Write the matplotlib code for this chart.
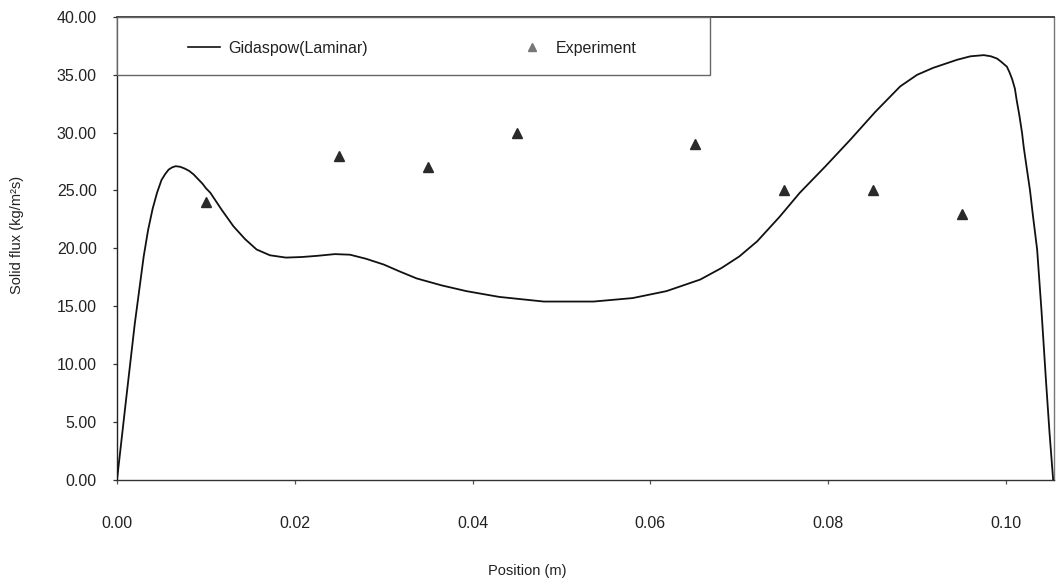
import matplotlib
matplotlib.use("Agg")
import matplotlib.pyplot as plt
from matplotlib.lines import Line2D
from matplotlib.patches import Rectangle

plt.rcParams['font.family'] = ['Liberation Sans', 'DejaVu Sans']

# Simulated solid flux profile (Gidaspow, laminar)
sim_x = [0.0000, 0.0010, 0.0020, 0.0030, 0.0035, 0.0040, 0.0045, 0.0050, 0.0054,
         0.0058, 0.0062, 0.0066, 0.0071, 0.0076, 0.0081, 0.0086, 0.0091, 0.0096,
         0.0100, 0.0105, 0.0118, 0.0131, 0.0144, 0.0157, 0.0172, 0.0190, 0.0208,
         0.0225, 0.0245, 0.0262, 0.0280, 0.0300, 0.0318, 0.0337, 0.0365, 0.0393,
         0.0430, 0.0480, 0.0536, 0.0580, 0.0618, 0.0656, 0.0680, 0.0700, 0.0720,
         0.0745, 0.0768, 0.0797, 0.0825, 0.0853, 0.0881, 0.0900, 0.0918, 0.0945,
         0.0960, 0.0975, 0.0983, 0.0990, 0.0995, 0.1001, 0.1004, 0.1007, 0.1010,
         0.1012, 0.1015, 0.1018, 0.1020, 0.1023, 0.1027, 0.1030, 0.1035, 0.1040,
         0.1045, 0.1049, 0.1053]
sim_y = [0.0, 6.8, 13.5, 19.3, 21.6, 23.4, 24.8, 25.9, 26.4,
         26.8, 27.0, 27.1, 27.05, 26.9, 26.7, 26.4, 26.0, 25.6,
         25.2, 24.8, 23.3, 21.9, 20.8, 19.9, 19.4, 19.2, 19.25,
         19.35, 19.5, 19.45, 19.1, 18.6, 18.0, 17.4, 16.8, 16.3,
         15.8, 15.4, 15.4, 15.7, 16.3, 17.3, 18.3, 19.3, 20.6,
         22.7, 24.8, 27.1, 29.4, 31.8, 34.0, 35.0, 35.6, 36.3,
         36.6, 36.7, 36.6, 36.4, 36.1, 35.7, 35.2, 34.6, 33.8,
         32.8, 31.5, 30.0, 28.7, 27.1, 25.0, 23.0, 19.9, 14.5,
         8.5, 4.0, 0.0]

# Measured solid flux
exp_x = [0.010, 0.025, 0.035, 0.045, 0.065, 0.075, 0.085, 0.095]
exp_y = [24.0, 28.0, 27.0, 30.0, 29.0, 25.0, 25.0, 23.0]

x_ticks = [0.00, 0.02, 0.04, 0.06, 0.08, 0.10]
y_ticks = [0, 5, 10, 15, 20, 25, 30, 35, 40]

fig = plt.figure(figsize=(10.59, 5.85), dpi=100)
ax = fig.add_axes([0.1105, 0.180, 0.8848, 0.791])

ax.plot(sim_x, sim_y, color='#111111', lw=1.3, zorder=3)
ax.plot(exp_x, exp_y, linestyle='none', marker='^', markersize=6.5,
        color='#2a2a2a', markeredgecolor='#2a2a2a', zorder=4)

ax.set_xlim(0, 0.1054)
ax.set_ylim(0, 40)
ax.set_xticks(x_ticks)
ax.set_xticklabels([f"{v:.2f}" for v in x_ticks])
ax.set_yticks(y_ticks)
ax.set_yticklabels([f"{v:.2f}" for v in y_ticks])

ax.tick_params(axis='y', direction='out', length=3, width=0.9, pad=11.5,
               labelsize=11.5, colors='#333333', labelcolor='#222222')
ax.tick_params(axis='x', direction='out', length=3, width=0.9, pad=23,
               labelsize=11.5, colors='#555555', labelcolor='#222222')

for side, col, lw in [('left', '#222222', 1.0), ('bottom', '#333333', 1.0),
                      ('top', '#222222', 1.2), ('right', '#777777', 1.0)]:
    ax.spines[side].set_color(col)
    ax.spines[side].set_linewidth(lw)

ax.set_xlabel('Position (m)', fontsize=10.5, color='#222222')
ax.set_ylabel('Solid flux (kg/m²s)', fontsize=10.5, color='#222222')
ax.yaxis.set_label_coords(-0.099, 0.53)
ax.xaxis.set_label_coords(0.438, -0.182)

# legend frame spanning the top band of the plot area
frame_w = (710 - 117) / 937
ax.add_patch(Rectangle((0.0, 0.875), frame_w, 0.125, transform=ax.transAxes,
                       facecolor='white', edgecolor='#666666', lw=1.0,
                       zorder=5, clip_on=False))

handles = [Line2D([0], [0], color='#111111', lw=1.2),
           Line2D([0], [0], linestyle='none', marker='^', markersize=6,
                  color='#777777')]
leg = ax.legend(handles, ['Gidaspow(Laminar)', 'Experiment'], ncol=2,
                loc='center left', bbox_to_anchor=((188 - 117) / 937, 0.932),
                fontsize=11.5, frameon=False, borderpad=0.0,
                borderaxespad=0.0, handlelength=2.0, handletextpad=0.5,
                columnspacing=9.3, labelcolor='#222222')
leg.set_zorder(6)

fig.savefig('out.png', dpi=100)
